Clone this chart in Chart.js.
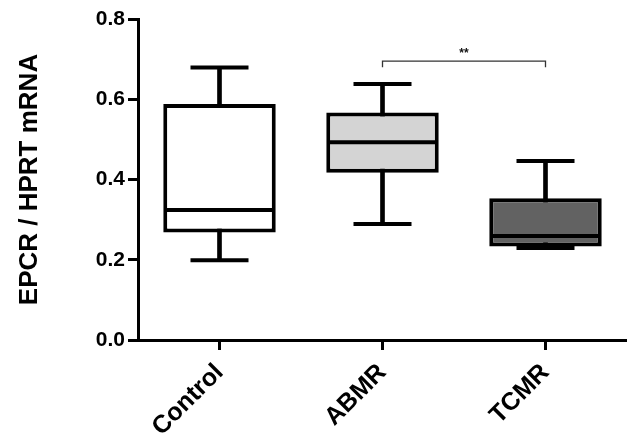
<!DOCTYPE html>
<html>
<head>
<meta charset="utf-8">
<script src="https://cdn.jsdelivr.net/npm/chart.js@4/dist/chart.umd.min.js"></script>
<style>
html,body{margin:0;padding:0;background:#fff;}
#wrap{width:627px;height:436px;position:relative;}
</style>
</head>
<body>
<div id="wrap"><canvas id="c" width="627" height="436"></canvas></div>
<script>
// ---- data ----
const categories = ["Control", "ABMR", "TCMR"];
const whiskerMin = [0.199, 0.289, 0.229];
const q1 = [0.268, 0.417, 0.233];
const median = [0.324, 0.493, 0.259];
const q3 = [0.588, 0.567, 0.353];
const whiskerMax = [0.679, 0.638, 0.446];
const boxFills = ["#ffffff", "#d4d4d4", "#626262"];
const yTicks = [0.0, 0.2, 0.4, 0.6, 0.8];
const sigFrom = 1, sigTo = 2, sigLevel = 0.695, sigText = "**";

const FONT = "'Liberation Sans', Arial, sans-serif";

// line controller whose big 'line' point markers do not push the layout padding
class MarkController extends Chart.LineController {
  getMaxOverflow() { return 0; }
}
MarkController.id = 'mark';
MarkController.defaults = Chart.LineController.defaults;
Chart.register(MarkController);

const bracketPlugin = {
  id: 'bracket',
  afterDatasetsDraw(chart) {
    const ctx = chart.ctx, xs = chart.scales.x, ys = chart.scales.y;
    const x1 = xs.getPixelForValue(sigFrom), x2 = xs.getPixelForValue(sigTo);
    const y = ys.getPixelForValue(sigLevel);
    ctx.save();
    ctx.strokeStyle = '#333';
    ctx.lineWidth = 1.3;
    ctx.beginPath();
    ctx.moveTo(x1, y + 6); ctx.lineTo(x1, y); ctx.lineTo(x2, y); ctx.lineTo(x2, y + 6);
    ctx.stroke();
    ctx.fillStyle = '#111';
    ctx.font = "bold 12px " + FONT;
    ctx.textAlign = 'center';
    ctx.textBaseline = 'bottom';
    ctx.fillText(sigText, (x1 + x2) / 2, y - 1);
    ctx.restore();
  }
};

new Chart(document.getElementById('c'), {
  data: {
    labels: categories,
    datasets: [
      { type: 'bar', label: 'whisker', data: categories.map((c, i) => [whiskerMin[i], whiskerMax[i]]),
        backgroundColor: '#000', borderWidth: 0, barThickness: 4, grouped: false, order: 5 },
      { type: 'mark', label: 'capMax', data: whiskerMax, showLine: false, pointStyle: 'line',
        pointRadius: 29, pointBorderWidth: 4, borderColor: '#000', backgroundColor: '#000', order: 4 },
      { type: 'mark', label: 'capMin', data: whiskerMin, showLine: false, pointStyle: 'line',
        pointRadius: 29, pointBorderWidth: 4, borderColor: '#000', backgroundColor: '#000', order: 4 },
      { type: 'bar', label: 'box', data: categories.map((c, i) => [q1[i], q3[i]]),
        backgroundColor: boxFills, borderColor: '#000', borderWidth: 4, borderSkipped: false,
        barPercentage: 0.69, categoryPercentage: 1, grouped: false, order: 2 },
      { type: 'mark', label: 'median', data: median, showLine: false, pointStyle: 'line',
        pointRadius: 53, pointBorderWidth: 4, borderColor: '#000', backgroundColor: '#000', order: 1 }
    ]
  },
  options: {
    responsive: false,
    animation: false,
    events: [],
    layout: { padding: { top: 19, right: 0, left: 0, bottom: 0 } },
    plugins: { legend: { display: false }, tooltip: { enabled: false } },
    scales: {
      x: {
        type: 'category',
        offset: true,
        grid: { display: true, drawOnChartArea: false, tickLength: 10, color: '#000', lineWidth: 3, offset: false },
        border: { display: true, color: '#000', width: 3 },
        ticks: { color: '#000', font: { family: FONT, size: 25, weight: 'bold' }, minRotation: 45, maxRotation: 45, padding: 8 },
        afterFit(s) { s.height = 96; }
      },
      y: {
        min: 0, max: 0.8,
        afterBuildTicks(s) { s.ticks = yTicks.map(v => ({ value: v })); },
        grid: { display: true, drawOnChartArea: false, tickLength: 10, color: '#000', lineWidth: 3 },
        border: { display: true, color: '#000', width: 3 },
        ticks: { color: '#000', font: { family: FONT, size: 21, weight: 'bold' }, padding: 3,
          callback: v => Number(v).toFixed(1) },
        title: { display: true, text: 'EPCR / HPRT mRNA', color: '#000',
          font: { family: FONT, size: 26, weight: 'bold' }, padding: { top: 14, bottom: 0 } },
        afterFit(s) { s.width = 138; }
      }
    }
  },
  plugins: [bracketPlugin]
});
</script>
</body>
</html>
